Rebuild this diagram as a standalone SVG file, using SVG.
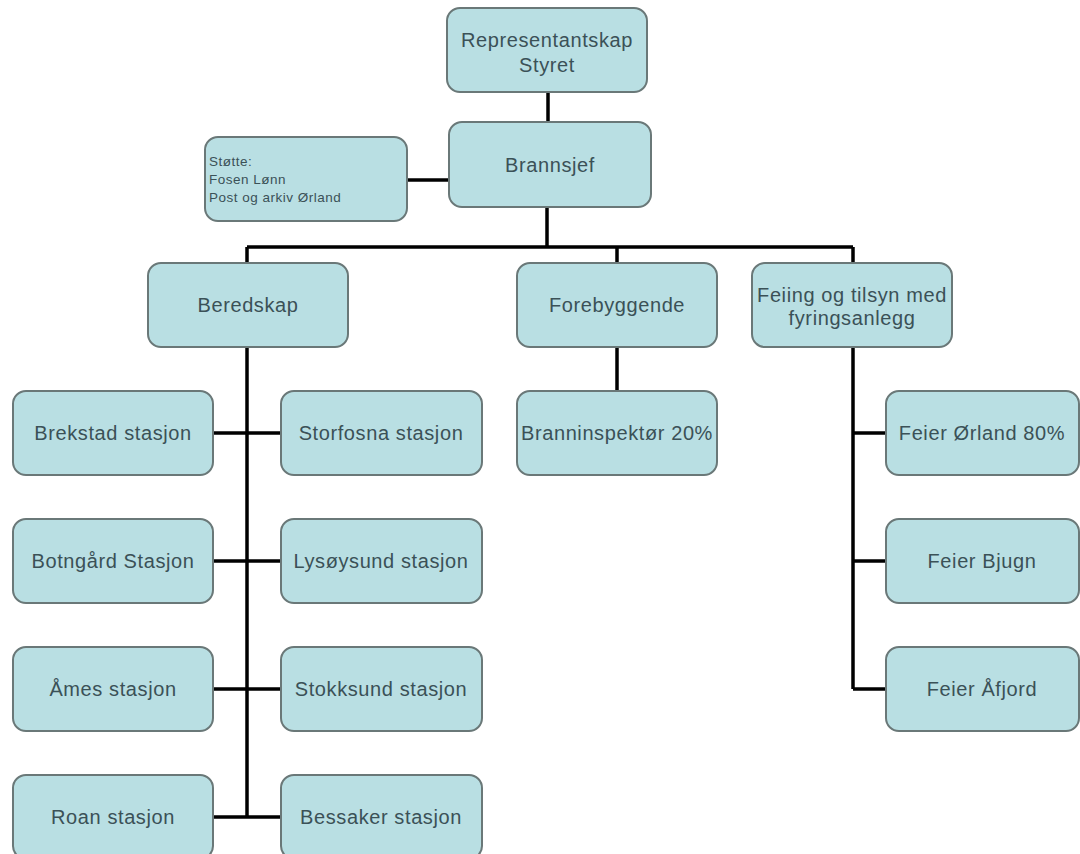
<svg xmlns="http://www.w3.org/2000/svg" width="1080" height="854" viewBox="0 0 1080 854">
<style>
.box{fill:#b9dfe3;stroke:#6a7878;stroke-width:2}
.t{font-family:"Liberation Sans",Arial,sans-serif;font-size:20px;letter-spacing:0.6px;fill:#3b5157;text-anchor:middle}
.s{font-family:"Liberation Sans",Arial,sans-serif;font-size:13.5px;letter-spacing:0.5px;fill:#3b5157}
.c{stroke:#000;stroke-width:3.5;fill:none}
</style>
<rect width="1080" height="854" fill="#fff"/>
<g id="connectors">
<path class="c" d="M548 92V122"/>
<path class="c" d="M407 180H449"/>
<path class="c" d="M547 207V247M247 247H853M247 247V263M617 247V263M853 247V263"/>
<path class="c" d="M247 347V818"/>
<path class="c" d="M213 433H282M213 561H282M213 689H282M213 817H282"/>
<path class="c" d="M617 347V391"/>
<path class="c" d="M853 347V689M853 433H886M853 561H886M853 689H886"/>
</g>
<g id="representantskap"><rect class="box" x="447" y="8" width="200" height="84" rx="13"/><text class="t" x="547" y="47">Representantskap</text><text class="t" x="547" y="72">Styret</text></g>
<g id="brannsjef"><rect class="box" x="449" y="122" width="202" height="85" rx="13"/><text class="t" x="550" y="172">Brannsjef</text></g>
<g id="stotte"><rect class="box" x="205" y="137" width="202" height="84" rx="13"/><text class="s" x="209" y="166">Støtte:</text><text class="s" x="209" y="184">Fosen Lønn</text><text class="s" x="209" y="202">Post og arkiv Ørland</text></g>
<g id="beredskap"><rect class="box" x="148" y="263" width="200" height="84" rx="13"/><text class="t" x="248" y="312">Beredskap</text></g>
<g id="forebyggende"><rect class="box" x="517" y="263" width="200" height="84" rx="13"/><text class="t" x="617" y="312">Forebyggende</text></g>
<g id="feiing"><rect class="box" x="752" y="263" width="200" height="84" rx="13"/><text class="t" x="852" y="302">Feiing og tilsyn med</text><text class="t" x="852" y="325">fyringsanlegg</text></g>
<g id="branninspektor"><rect class="box" x="517" y="391" width="200" height="84" rx="13"/><text class="t" x="617" y="440">Branninspektør 20%</text></g>
<g id="brekstad"><rect class="box" x="13" y="391" width="200" height="84" rx="13"/><text class="t" x="113" y="440">Brekstad stasjon</text></g>
<g id="storfosna"><rect class="box" x="281" y="391" width="201" height="84" rx="13"/><text class="t" x="381" y="440">Storfosna stasjon</text></g>
<g id="botngard"><rect class="box" x="13" y="519" width="200" height="84" rx="13"/><text class="t" x="113" y="568">Botngård Stasjon</text></g>
<g id="lysoysund"><rect class="box" x="281" y="519" width="201" height="84" rx="13"/><text class="t" x="381" y="568">Lysøysund stasjon</text></g>
<g id="arnes"><rect class="box" x="13" y="647" width="200" height="84" rx="13"/><text class="t" x="113" y="696">Åmes stasjon</text></g>
<g id="stokksund"><rect class="box" x="281" y="647" width="201" height="84" rx="13"/><text class="t" x="381" y="696">Stokksund stasjon</text></g>
<g id="roan"><rect class="box" x="13" y="775" width="200" height="84" rx="13"/><text class="t" x="113" y="824">Roan stasjon</text></g>
<g id="bessaker"><rect class="box" x="281" y="775" width="201" height="84" rx="13"/><text class="t" x="381" y="824">Bessaker stasjon</text></g>
<g id="feier-orland"><rect class="box" x="886" y="391" width="193" height="84" rx="13"/><text class="t" x="982" y="440">Feier Ørland 80%</text></g>
<g id="feier-bjugn"><rect class="box" x="886" y="519" width="193" height="84" rx="13"/><text class="t" x="982" y="568">Feier Bjugn</text></g>
<g id="feier-afjord"><rect class="box" x="886" y="647" width="193" height="84" rx="13"/><text class="t" x="982" y="696">Feier Åfjord</text></g>
</svg>
